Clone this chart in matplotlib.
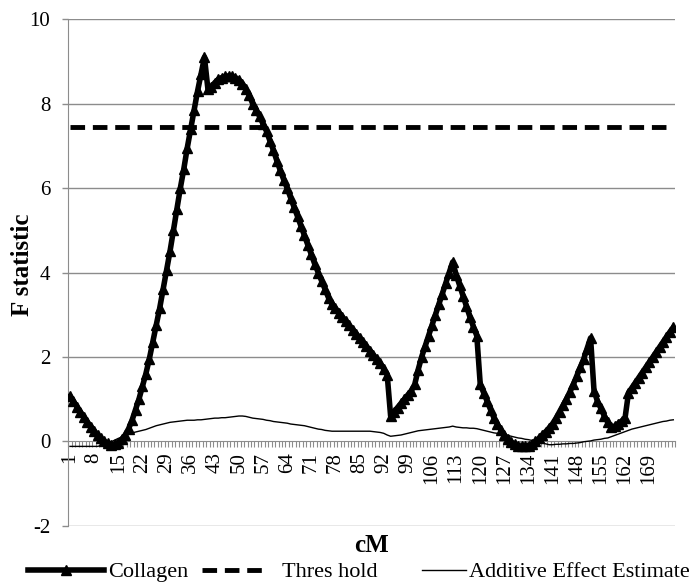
import numpy as np
import matplotlib
matplotlib.use("Agg")
from matplotlib import pyplot as plt

plt.rcParams['font.family'] = ['Liberation Serif', 'DejaVu Serif']
plt.rcParams['axes.unicode_minus'] = False

# cM positions (categories 1..176)
cm = list(range(1, 177))

collagen = [
    1.07, 0.95, 0.82, 0.70, 0.58, 0.46, 0.35, 0.25, 0.15, 0.07,
    0.00, -0.05, -0.08, -0.07, -0.03, 0.05, 0.15, 0.30, 0.50, 0.75,
    1.00, 1.30, 1.60, 1.95, 2.35, 2.75, 3.15, 3.60, 4.05, 4.50,
    5.00, 5.50, 6.00, 6.45, 6.95, 7.40, 7.85, 8.30, 8.70, 9.10,
    8.35, 8.40, 8.50, 8.58, 8.62, 8.65, 8.66, 8.65, 8.62, 8.56,
    8.48, 8.35, 8.20, 8.00, 7.85, 7.70, 7.52, 7.35, 7.12, 6.90,
    6.65, 6.42, 6.20, 6.00, 5.77, 5.55, 5.33, 5.10, 4.88, 4.65,
    4.43, 4.20, 4.00, 3.80, 3.60, 3.40, 3.25, 3.15, 3.05, 2.95,
    2.85, 2.75, 2.65, 2.55, 2.45, 2.35, 2.25, 2.15, 2.05, 1.95,
    1.85, 1.72, 1.58, 0.60, 0.70, 0.80, 0.90, 1.00, 1.10, 1.20,
    1.35, 1.70, 2.00, 2.25, 2.50, 2.75, 3.00, 3.25, 3.50, 3.75,
    4.00, 4.25, 3.95, 3.70, 3.45, 3.20, 2.95, 2.72, 2.50, 1.35,
    1.15, 0.95, 0.75, 0.55, 0.40, 0.27, 0.15, 0.05, -0.02, -0.07,
    -0.10, -0.12, -0.12, -0.10, -0.06, 0.00, 0.07, 0.15, 0.23, 0.32,
    0.42, 0.55, 0.70, 0.85, 1.00, 1.17, 1.35, 1.55, 1.75, 1.95,
    2.20, 2.45, 1.20, 0.95, 0.78, 0.60, 0.45, 0.33, 0.36, 0.42,
    0.48, 0.55, 1.15, 1.27, 1.39, 1.51, 1.63, 1.75, 1.87, 1.99,
    2.11, 2.23, 2.35, 2.47, 2.59, 2.70,
]

additive = [
    -0.12, -0.12, -0.12, -0.12, -0.12, -0.12, -0.12, -0.12, -0.12, -0.10,
    -0.07, -0.04, -0.01, 0.03, 0.07, 0.10, 0.14, 0.17, 0.20, 0.22,
    0.24, 0.26, 0.28, 0.31, 0.34, 0.37, 0.39, 0.41, 0.43, 0.45,
    0.46, 0.47, 0.48, 0.49, 0.50, 0.50, 0.50, 0.51, 0.51, 0.52,
    0.53, 0.54, 0.55, 0.55, 0.56, 0.56, 0.57, 0.58, 0.59, 0.60,
    0.60, 0.59, 0.57, 0.55, 0.54, 0.53, 0.52, 0.50, 0.49, 0.47,
    0.46, 0.45, 0.44, 0.43, 0.41, 0.40, 0.39, 0.38, 0.37, 0.35,
    0.33, 0.31, 0.29, 0.28, 0.26, 0.25, 0.24, 0.24, 0.24, 0.24,
    0.24, 0.24, 0.24, 0.24, 0.24, 0.24, 0.24, 0.24, 0.23, 0.22,
    0.21, 0.19, 0.15, 0.12, 0.13, 0.14, 0.15, 0.17, 0.19, 0.21,
    0.23, 0.25, 0.26, 0.27, 0.28, 0.29, 0.30, 0.31, 0.32, 0.33,
    0.34, 0.36, 0.34, 0.33, 0.32, 0.32, 0.31, 0.31, 0.30, 0.28,
    0.26, 0.24, 0.22, 0.20, 0.19, 0.18, 0.16, 0.14, 0.12, 0.10,
    0.08, 0.07, 0.05, 0.04, 0.02, 0.00, -0.02, -0.04, -0.06, -0.08,
    -0.08, -0.07, -0.07, -0.06, -0.06, -0.05, -0.05, -0.04, -0.03, -0.01,
    0.00, 0.01, 0.03, 0.04, 0.05, 0.07, 0.08, 0.11, 0.14, 0.17,
    0.20, 0.23, 0.26, 0.29, 0.31, 0.33, 0.35, 0.37, 0.39, 0.41,
    0.43, 0.45, 0.47, 0.48, 0.50, 0.51,
]

threshold_value = 7.45
threshold = [threshold_value] * len(cm)

tick_positions = list(range(1, 170, 7))
tick_labels = [str(c) for c in tick_positions]

fig = plt.figure(figsize=(6.99, 5.84), dpi=100)
ax = fig.add_axes([0.0977, 0.0998, 0.868, 0.867])

grid_color = '#8c8c8c'
for y in [-2, 2, 4, 6, 8, 10]:
    ax.axhline(y, color=grid_color, lw=1.0, zorder=0)

h1, = ax.plot(cm, collagen, color='black', lw=4.0, marker='^', markersize=6.5,
              label='Collagen', zorder=4)
h2, = ax.plot(cm, threshold, color='black', lw=3.5, dashes=(3.0, 1.6),
              label='Thres hold', zorder=3)
h3, = ax.plot(cm, additive, color='black', lw=1.0,
              label='Additive Effect Estimate', zorder=3)

ax.set_xlim(0.5, len(cm) + 0.5)
ax.set_ylim(-2, 10)
ax.set_yticks([-2, 0, 2, 4, 6, 8, 10])
ax.set_xticks(tick_positions)
ax.set_xticklabels(tick_labels)
ax.set_xticks(np.arange(0.5, len(cm) + 1, 1.0), minor=True)

for s in ['top', 'right']:
    ax.spines[s].set_visible(False)
ax.spines['bottom'].set_position(('data', 0))
ax.spines['bottom'].set_color(grid_color)
ax.spines['left'].set_color(grid_color)
ax.spines['bottom'].set_zorder(1)

ax.tick_params(axis='x', which='major', length=0, pad=8, labelrotation=90,
               labelsize=15)
ax.tick_params(axis='x', which='minor', length=4.5, width=0.8, color=grid_color,
               direction='out')
ax.tick_params(axis='y', length=4.5, width=1, color=grid_color, labelsize=15,
               pad=8.5)

ax.set_ylabel('F statistic', fontsize=18, fontweight='bold')
ax.yaxis.set_label_coords(-0.056, 0.515)
ax.set_xlabel('cM', fontsize=18, fontweight='bold')
ax.xaxis.set_label_coords(0.5, -0.016)

W = 699.0
legend_y = 0.0205
for h, x0, hl, tp in [(h1, 28, 3.4, 0.2), (h2, 202, 3.0, 0.6), (h3, 422, 2.0, 0.12)]:
    fig.legend(handles=[h], loc='center left', bbox_to_anchor=(x0 / W, legend_y),
               frameon=False, fontsize=16, handlelength=hl, handletextpad=tp,
               numpoints=1, borderpad=0, borderaxespad=0)

fig.savefig('out.png', dpi=100)
